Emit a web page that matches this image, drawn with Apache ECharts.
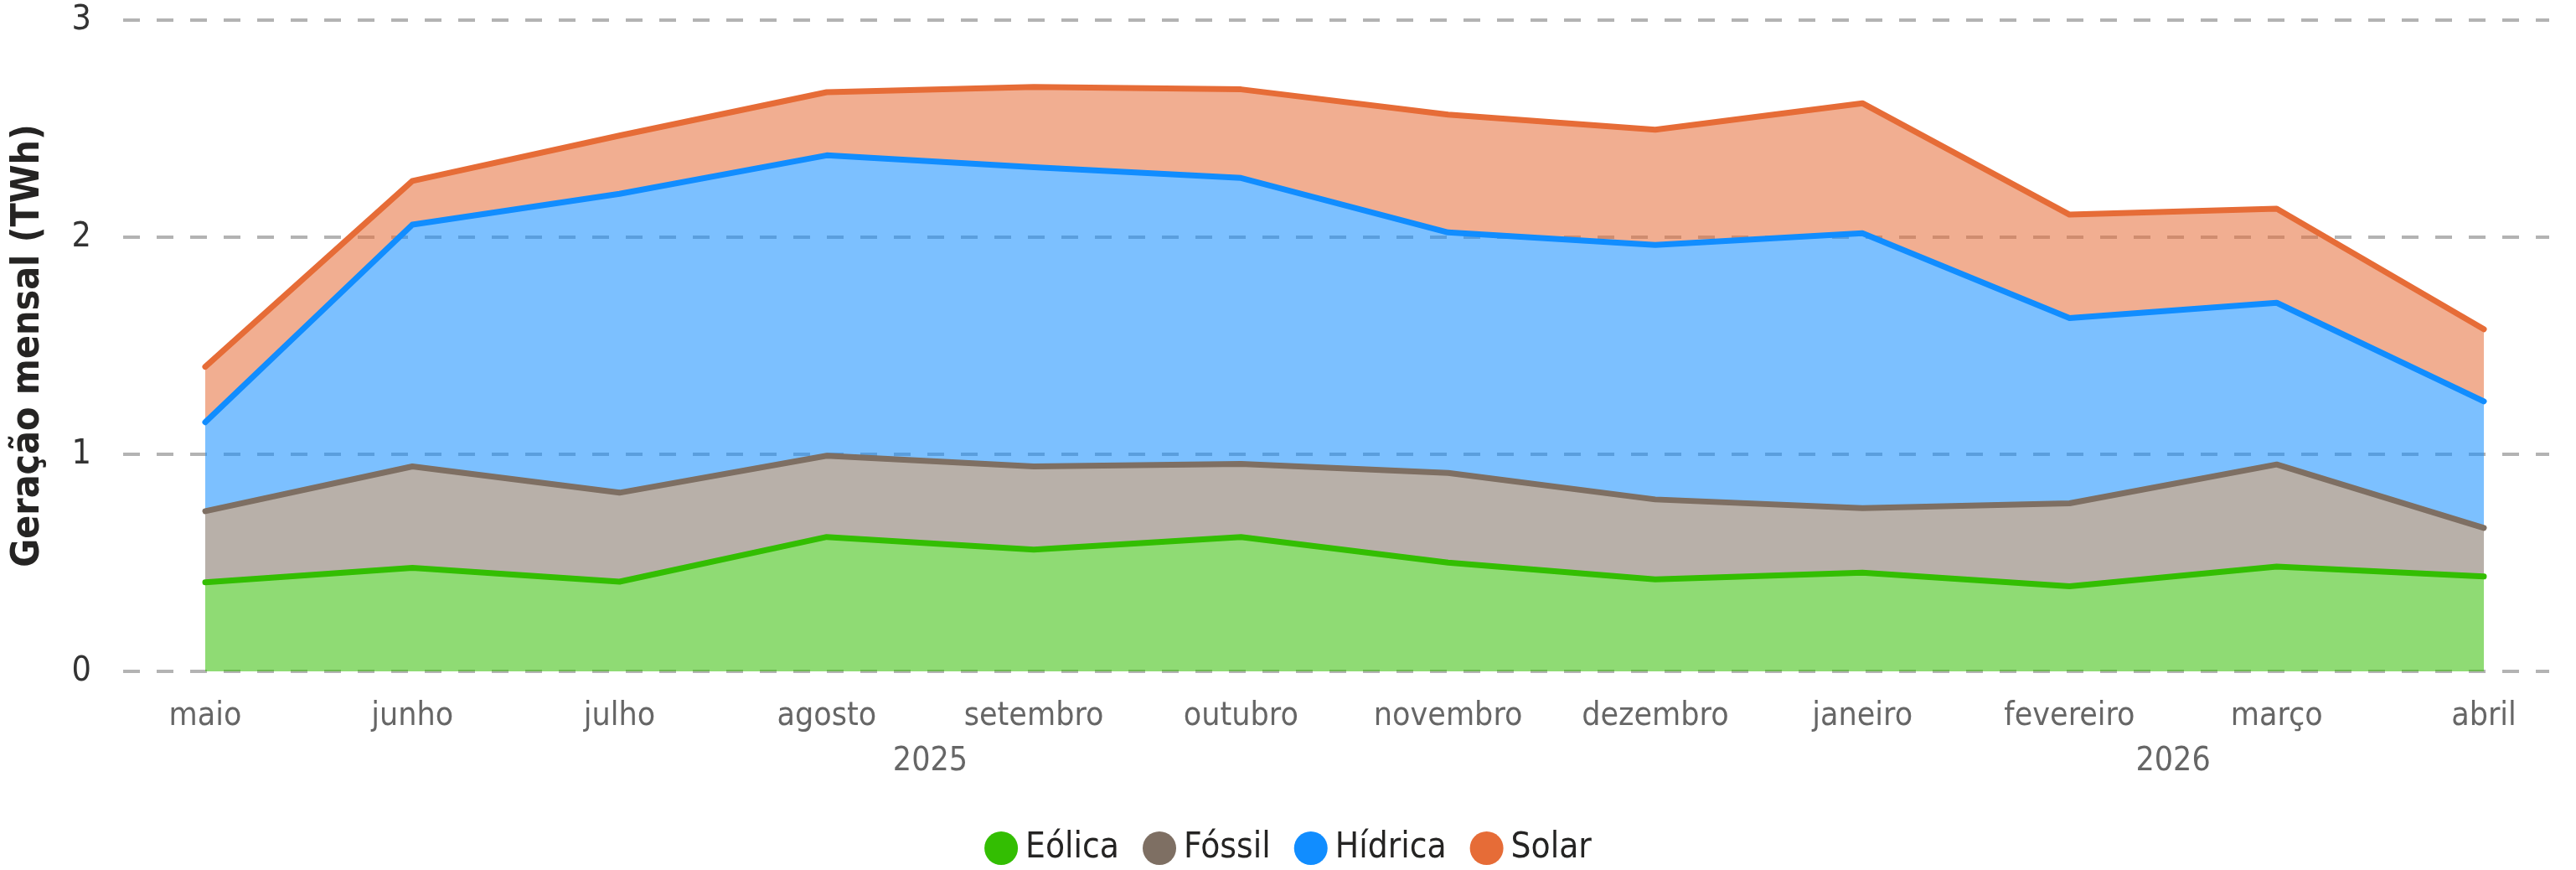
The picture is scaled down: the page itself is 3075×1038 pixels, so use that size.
<!DOCTYPE html>
<html lang="pt">
<head>
<meta charset="UTF-8">
<title>Geração mensal</title>
<script src="https://cdn.jsdelivr.net/npm/echarts@6/dist/echarts.min.js"></script>
<style>
html, body { margin: 0; padding: 0; background: #fff; }
#main { width: 3075px; height: 1038px; }
</style>
</head>
<body>
<div id="main"></div>
<script>
// dados (TWh)
var meses = ['maio', 'junho', 'julho', 'agosto', 'setembro', 'outubro', 'novembro', 'dezembro', 'janeiro', 'fevereiro', 'março', 'abril'];
var anos = [2025, 2025, 2025, 2025, 2025, 2025, 2025, 2025, 2026, 2026, 2026, 2026];

var eolica  = [0.41, 0.477, 0.413, 0.619, 0.561, 0.619, 0.501, 0.424, 0.455, 0.392, 0.483, 0.437];
var fossil  = [0.328, 0.467, 0.41, 0.374, 0.383, 0.337, 0.413, 0.368, 0.297, 0.382, 0.47, 0.224];
var hidrica = [0.41, 1.114, 1.377, 1.384, 1.378, 1.317, 1.108, 1.172, 1.266, 0.853, 0.745, 0.583];
var solar   = [0.255, 0.201, 0.268, 0.291, 0.37, 0.408, 0.543, 0.531, 0.599, 0.477, 0.433, 0.332];

var yTicks = [0, 1, 2, 3];

var cores = {
    'Eólica': '#33be02',
    'Fóssil': '#7e6f63',
    'Hídrica': '#118dff',
    'Solar': '#e66c37'
};

// posição central de cada ano sob os seus meses
var centroAno = {};
(function () {
    var soma = {}, n = {};
    anos.forEach(function (a, i) {
        soma[a] = (soma[a] || 0) + i;
        n[a] = (n[a] || 0) + 1;
    });
    for (var a in soma) centroAno[(soma[a] / n[a]).toFixed(1)] = a;
})();

var fonte = "'DejaVu Sans Condensed', 'Liberation Sans Narrow', sans-serif";

function serie(nome, dados) {
    return {
        name: nome,
        type: 'line',
        stack: 'total',
        xAxisIndex: 0,
        yAxisIndex: 0,
        data: dados,
        symbol: 'none',
        lineStyle: { width: 7, color: cores[nome], cap: 'round', join: 'round' },
        itemStyle: { color: cores[nome] },
        areaStyle: { color: cores[nome], opacity: 0.55 },
        emphasis: { disabled: true }
    };
}

var myChart = echarts.init(document.getElementById('main'));

var option = {
    animation: false,
    textStyle: { fontFamily: fonte },
    grid: [
        { left: 245, right: 110, top: 24, bottom: 237, outerBoundsMode: 'none' },
        { left: 147, right: 32, top: 24, bottom: 237, outerBoundsMode: 'none' }
    ],
    legend: {
        data: ['Eólica', 'Fóssil', 'Hídrica', 'Solar'],
        bottom: 0,
        left: 'center',
        icon: 'circle',
        itemWidth: 40,
        itemHeight: 40,
        itemGap: 28,
        textStyle: { fontSize: 42, color: '#252423', fontFamily: fonte, padding: [0, 0, 0, 4] }
    },
    xAxis: [
        {
            type: 'category',
            gridIndex: 0,
            data: meses,
            boundaryGap: false,
            axisLine: { show: false },
            axisTick: { show: false },
            axisLabel: { interval: 0, margin: 34, fontSize: 39, color: '#666', fontFamily: fonte }
        },
        {
            type: 'value',
            gridIndex: 0,
            position: 'bottom',
            min: 0,
            max: meses.length - 1,
            interval: 0.5,
            axisLine: { show: false },
            axisTick: { show: false },
            splitLine: { show: false },
            axisLabel: {
                margin: 88,
                fontSize: 39,
                color: '#666',
                fontFamily: fonte,
                showMinLabel: true,
                showMaxLabel: true,
                formatter: function (v) { return centroAno[v.toFixed(1)] || ''; }
            }
        },
        {
            type: 'value',
            gridIndex: 1,
            min: 0,
            max: 1,
            show: false
        }
    ],
    yAxis: [
        {
            type: 'value',
            gridIndex: 0,
            min: 0,
            max: 3,
            interval: 1,
            show: false
        },
        {
            type: 'value',
            gridIndex: 1,
            min: yTicks[0],
            max: yTicks[yTicks.length - 1],
            interval: 1,
            name: 'Geração mensal (TWh)',
            nameLocation: 'middle',
            nameGap: 90,
            nameTextStyle: { fontSize: 46, fontWeight: 'bold', color: '#252423', fontFamily: fonte },
            axisLine: { show: false },
            axisTick: { show: false },
            axisLabel: { margin: 38, fontSize: 41, color: '#333', fontFamily: fonte },
            splitLine: { lineStyle: { color: '#b3b3b3', width: 4, type: [20, 20] } }
        }
    ],
    series: [
        serie('Eólica', eolica),
        serie('Fóssil', fossil),
        serie('Hídrica', hidrica),
        serie('Solar', solar),
        { type: 'line', xAxisIndex: 2, yAxisIndex: 1, data: [], silent: true }
    ]
};

myChart.setOption(option);
</script>
</body>
</html>
